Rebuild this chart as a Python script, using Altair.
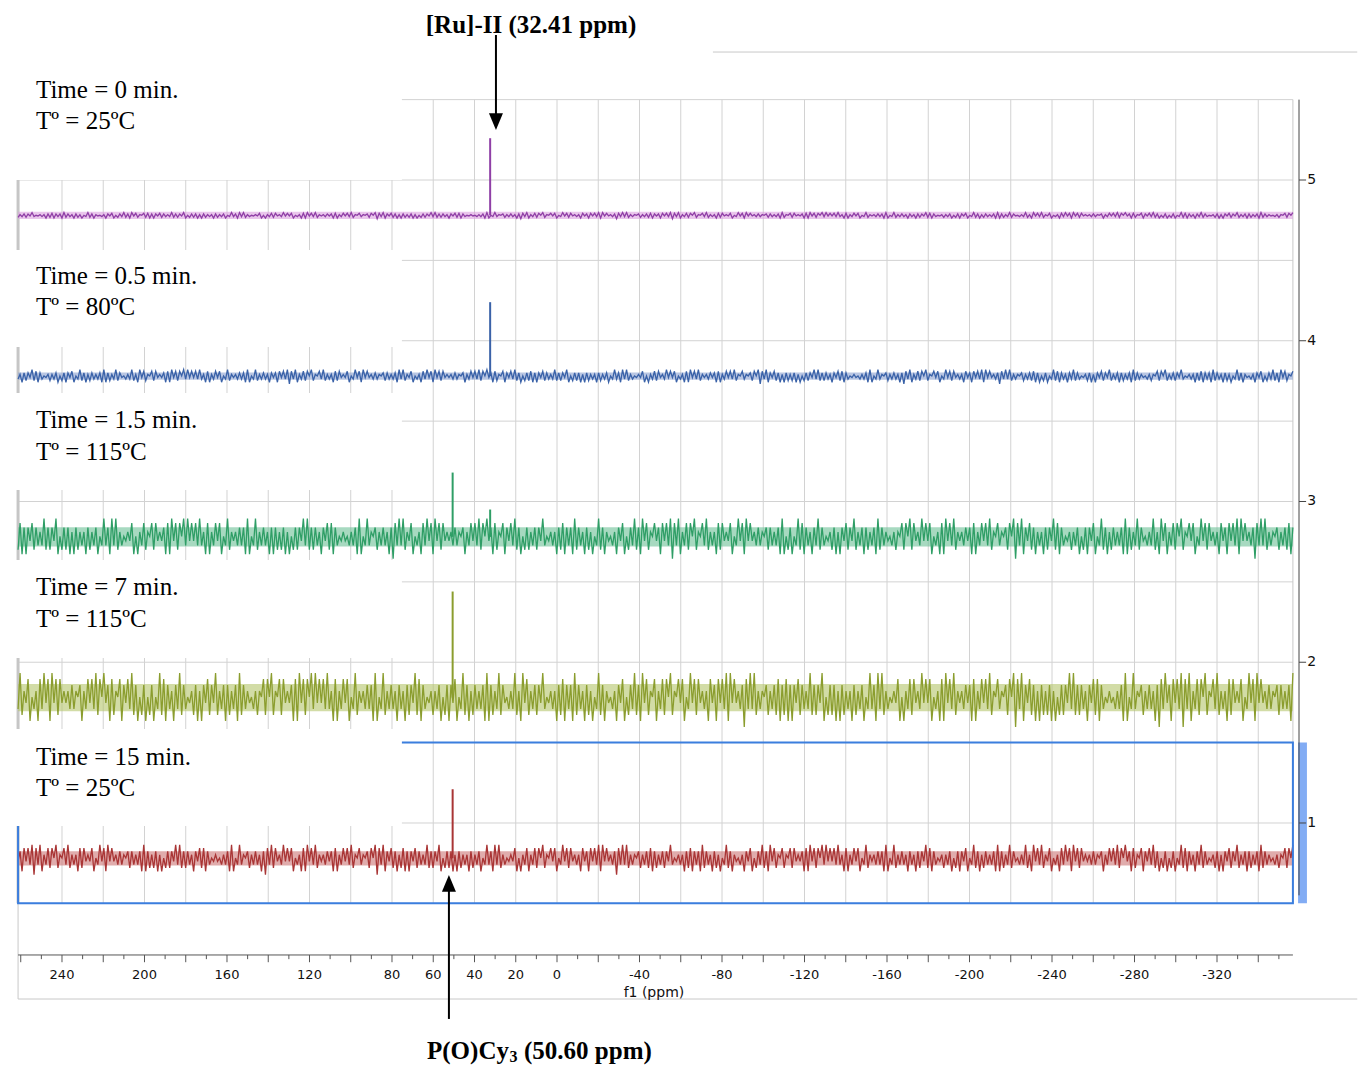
import altair as alt
import numpy as np
import pandas as pd

# ---------------- data ----------------
ppm_left = 261.3
ppm_right = -356.8

trace_names = ["5", "4", "3", "2", "1"]
trace_colors = ["#8f3fa6", "#3a62a8", "#2f9e66", "#8b9d2e", "#a93535"]
band_colors = ["#dca0e0", "#8aa0d0", "#6cc096", "#b4c46a", "#cc7474"]
trace_base = [4.78, 3.78, 2.78, 1.78, 0.78]
trace_amp = [0.019, 0.044, 0.125, 0.168, 0.093]
band_half = [0.022, 0.022, 0.06, 0.085, 0.045]

# hand-estimated noise levels (0 = lowest, 9 = highest within each trace's band)
noise_r1 = "2817174827363927274915272716172636172637153937193926354648151638"
noise_r2 = "2658284647181948285939484839361816384815392646373719153926373617"
noise_r3 = "1726271615272749392727361748281735464536371915393657263736170839"
noise_r4 = "3926481536183948194828464637365716384839285947182658174839271527"
noise_r5 = "2637274935463617281737192736172615392716453617481527392719482658"
noise_r6 = "4718483908391638285926583926361828464815394819484637365727363719"
noise_r7 = "1527153928173617392735462716174827492637172637192736453626582859"
noise_r8 = "2846394848153618194839264637471816384839265836572859083917482716"
noise_r9 = "3617274928173546263715271748153927162736371917263927453639261948"
noise_r10 = "1638285926584815394828463618471848391948463708393926365726372817"

noise_digits = [
    noise_r5 + noise_r1 + noise_r8 + noise_r3 + noise_r10 + noise_r6 + noise_r2 + noise_r9 + noise_r4 + noise_r7,
    noise_r9 + noise_r2 + noise_r6 + noise_r4 + noise_r1 + noise_r8 + noise_r3 + noise_r10 + noise_r7 + noise_r5,
    noise_r1 + noise_r2 + noise_r3 + noise_r4 + noise_r5 + noise_r6 + noise_r7 + noise_r8 + noise_r9 + noise_r10,
    noise_r4 + noise_r7 + noise_r2 + noise_r9 + noise_r5 + noise_r10 + noise_r1 + noise_r8 + noise_r3 + noise_r6,
    noise_r6 + noise_r3 + noise_r8 + noise_r1 + noise_r10 + noise_r5 + noise_r2 + noise_r9 + noise_r4 + noise_r7,
]

peak_trace = ["5", "4", "3", "3", "2", "1"]
peak_ppm = [32.41, 32.41, 50.60, 32.41, 50.60, 50.60]
peak_top = [5.26, 4.24, 3.18, 2.95, 2.44, 1.21]

label_line1 = ["Time = 0 min.", "Time = 0.5 min.", "Time = 1.5 min.", "Time = 7 min.", "Time = 15 min."]
label_line2 = ["Tº = 25ºC", "Tº = 80ºC", "Tº = 115ºC", "Tº = 115ºC", "Tº = 25ºC"]
label_v1 = [5.56, 4.40, 3.51, 2.47, 1.41]
label_v2 = [5.37, 4.21, 3.31, 2.27, 1.22]
box_top = [5.75, 4.565, 3.675, 2.636, 1.585]
box_bottom = [5.0, 3.961, 3.072, 2.026, 0.981]
box_right_ppm = 75.2
label_ppm = 252.6

x_tick_labels = [240, 200, 160, 120, 80, 60, 40, 20, 0, -40, -80, -120, -160, -200, -240, -280, -320]
x_ticks = list(range(260, -351, -10))
grid_ppm = list(range(240, -341, -20))
grid_v = [0.5, 1.0, 1.5, 2.0, 2.5, 3.0, 3.5, 4.0, 4.5, 5.0, 5.5]
y_ticks = [1, 2, 3, 4, 5]

axis_v = 0.179
yaxis_ppm = -359.76

# ---------------- scales ----------------
xs = alt.Scale(domain=[266.18, -388.36], nice=False, zero=False)
ys = alt.Scale(domain=[-0.4806, 6.0700], nice=False, zero=False)


def X(f):
    return alt.X(f, type="quantitative", scale=xs, axis=None)


def Y(f):
    return alt.Y(f, type="quantitative", scale=ys, axis=None)


color = alt.Color("trace:N", scale=alt.Scale(domain=trace_names, range=trace_colors), legend=None)

layers = []

# grid
layers.append(alt.Chart(pd.DataFrame({"ppm": grid_ppm, "a": 0.5, "b": 5.5})).mark_rule(
    color="#d2d2d2", strokeWidth=1).encode(x=X("ppm"), y=Y("a"), y2="b"))
layers.append(alt.Chart(pd.DataFrame({"v": grid_v, "a": ppm_left, "b": ppm_right})).mark_rule(
    color="#d2d2d2", strokeWidth=1).encode(y=Y("v"), x=X("a"), x2="b"))

# frame lines
frame = pd.DataFrame({
    "x1": [ppm_left, ppm_left, -75.6, ppm_right],
    "x2": [-388.0, ppm_left, -388.0, ppm_right],
    "y1": [-0.095, -0.095, 5.796, 0.5],
    "y2": [-0.095, 5.5, 5.796, 5.5],
})
layers.append(alt.Chart(frame).mark_rule(color="#c8c8c8", strokeWidth=1).encode(
    x=X("x1"), x2="x2", y=Y("y1"), y2="y2"))
layers.append(alt.Chart(pd.DataFrame({"x": [ppm_left], "a": [0.5], "b": [5.5]})).mark_rule(
    color="#c6c6c6", strokeWidth=3).encode(x=X("x"), y=Y("a"), y2="b"))

# noise bands
bands = pd.DataFrame({"trace": trace_names, "a": ppm_left, "b": ppm_right,
                      "lo": [b - h for b, h in zip(trace_base, band_half)],
                      "hi": [b + h for b, h in zip(trace_base, band_half)]})
layers.append(alt.Chart(bands).mark_rect(opacity=0.6).encode(
    x=X("a"), x2="b", y=Y("lo"), y2="hi",
    fill=alt.Fill("trace:N", scale=alt.Scale(domain=trace_names, range=band_colors), legend=None)))

# spectra
rows = []
for name, base, amp, digs in zip(trace_names, trace_base, trace_amp, noise_digits):
    n = len(digs)
    xs_pts = np.linspace(ppm_left, ppm_right, n)
    for i, d in enumerate(digs):
        rows.append({"trace": name, "ppm": xs_pts[i], "v": base + (int(d) - 4.9) / 4.5 * amp, "i": i})
spec = pd.DataFrame(rows)
layers.append(alt.Chart(spec).mark_line(strokeWidth=1.3, interpolate="linear").encode(
    x=X("ppm"), y=Y("v"), color=color, detail="trace:N", order="i:Q"))

peaks = pd.DataFrame({"trace": peak_trace, "ppm": peak_ppm, "top": peak_top,
                      "base": [trace_base[trace_names.index(t)] for t in peak_trace]})
layers.append(alt.Chart(peaks).mark_rule(strokeWidth=2).encode(
    x=X("ppm"), y=Y("base"), y2="top", color=color))

# selection rectangle and bar
layers.append(alt.Chart(pd.DataFrame({"a": [ppm_left], "b": [ppm_right], "c": [0.5], "d": [1.5]})).mark_rect(
    fillOpacity=0, stroke="#3b7ede", strokeWidth=2).encode(x=X("a"), x2="b", y=Y("c"), y2="d"))
layers.append(alt.Chart(pd.DataFrame({"a": [-359.3], "b": [-363.6], "c": [0.5], "d": [1.5]})).mark_rect(
    color="#82acf4").encode(x=X("a"), x2="b", y=Y("c"), y2="d"))

# white label boxes
layers.append(alt.Chart(pd.DataFrame({"a": 266.18, "b": box_right_ppm, "c": box_bottom, "d": box_top})).mark_rect(
    color="white").encode(x=X("a"), x2="b", y=Y("c"), y2="d"))

# labels
lab = pd.DataFrame({"t": label_line1 + label_line2, "v": label_v1 + label_v2, "ppm": label_ppm})
layers.append(alt.Chart(lab).mark_text(align="left", baseline="middle", font="Liberation Serif",
                                       fontSize=25, color="black").encode(x=X("ppm"), y=Y("v"), text="t"))

# y axis
layers.append(alt.Chart(pd.DataFrame({"x": [yaxis_ppm], "a": [0.55], "b": [5.5]})).mark_rule(
    color="#444444", strokeWidth=1).encode(x=X("x"), y=Y("a"), y2="b"))
layers.append(alt.Chart(pd.DataFrame({"v": y_ticks, "a": yaxis_ppm, "b": -363.2})).mark_rule(
    color="#444444", strokeWidth=1).encode(y=Y("v"), x=X("a"), x2="b"))
layers.append(alt.Chart(pd.DataFrame({"v": y_ticks, "x": -363.8, "t": [str(t) for t in y_ticks]})).mark_text(
    align="left", baseline="middle", font="DejaVu Sans", fontSize=14, color="#111111").encode(
    x=X("x"), y=Y("v"), text="t"))

# x axis
layers.append(alt.Chart(pd.DataFrame({"a": [ppm_left], "b": [ppm_right], "v": [axis_v]})).mark_rule(
    color="#555555", strokeWidth=1).encode(x=X("a"), x2="b", y=Y("v")))
tk = pd.DataFrame({"ppm": x_ticks, "a": axis_v,
                   "b": [axis_v - (0.045 if t % 20 == 0 else 0.026) for t in x_ticks]})
layers.append(alt.Chart(tk).mark_rule(color="#555555", strokeWidth=1).encode(
    x=X("ppm"), y=Y("a"), y2="b"))
layers.append(alt.Chart(pd.DataFrame({"ppm": x_tick_labels, "v": 0.054,
                                      "t": [str(t) for t in x_tick_labels]})).mark_text(
    align="center", baseline="middle", font="DejaVu Sans", fontSize=13, color="#111111").encode(
    x=X("ppm"), y=Y("v"), text="t"))
layers.append(alt.Chart(pd.DataFrame({"ppm": [-47.0], "v": [-0.058], "t": ["f1 (ppm)"]})).mark_text(
    align="center", baseline="middle", font="DejaVu Sans", fontSize=14, color="#111111").encode(
    x=X("ppm"), y=Y("v"), text="t"))

# annotations
arrows = pd.DataFrame({"ppm": [29.6, 52.4], "a": [5.902, -0.219], "b": [5.367, 0.62]})
layers.append(alt.Chart(arrows).mark_rule(color="black", strokeWidth=2).encode(
    x=X("ppm"), y=Y("a"), y2="b"))
layers.append(alt.Chart(pd.DataFrame({"ppm": [29.6], "v": [5.363]})).mark_point(
    shape="M -1 -1.2 L 1 -1.2 L 0 1.2 Z", size=196, filled=True, color="black", opacity=1).encode(
    x=X("ppm"), y=Y("v")))
layers.append(alt.Chart(pd.DataFrame({"ppm": [52.4], "v": [0.624]})).mark_point(
    shape="M -1 1.2 L 1 1.2 L 0 -1.2 Z", size=196, filled=True, color="black", opacity=1).encode(
    x=X("ppm"), y=Y("v")))

ann = pd.DataFrame({"ppm": [12.6], "v": [5.964], "t": ["[Ru]-II (32.41 ppm)"]})
layers.append(alt.Chart(ann).mark_text(align="center", baseline="middle", font="Liberation Serif",
                                       fontSize=25, fontWeight="bold", color="black").encode(
    x=X("ppm"), y=Y("v"), text="t"))
layers.append(alt.Chart(pd.DataFrame({"ppm": [23.3], "v": [-0.418], "t": ["P(O)Cy"]})).mark_text(
    align="right", baseline="middle", font="Liberation Serif", fontSize=25, fontWeight="bold",
    color="black").encode(x=X("ppm"), y=Y("v"), text="t"))
layers.append(alt.Chart(pd.DataFrame({"ppm": [23.0], "v": [-0.456], "t": ["3"]})).mark_text(
    align="left", baseline="middle", font="Liberation Serif", fontSize=16, fontWeight="bold",
    color="black").encode(x=X("ppm"), y=Y("v"), text="t"))
layers.append(alt.Chart(pd.DataFrame({"ppm": [16.0], "v": [-0.418], "t": ["(50.60 ppm)"]})).mark_text(
    align="left", baseline="middle", font="Liberation Serif", fontSize=25, fontWeight="bold",
    color="black").encode(x=X("ppm"), y=Y("v"), text="t"))

chart = alt.layer(*layers).properties(
    width=1350, height=1053, autosize="none",
    padding={"left": 0, "top": 0, "right": 0, "bottom": 8},
).configure_view(strokeWidth=0)

chart.save("out.html", embed_options={"renderer": "svg", "actions": False})
